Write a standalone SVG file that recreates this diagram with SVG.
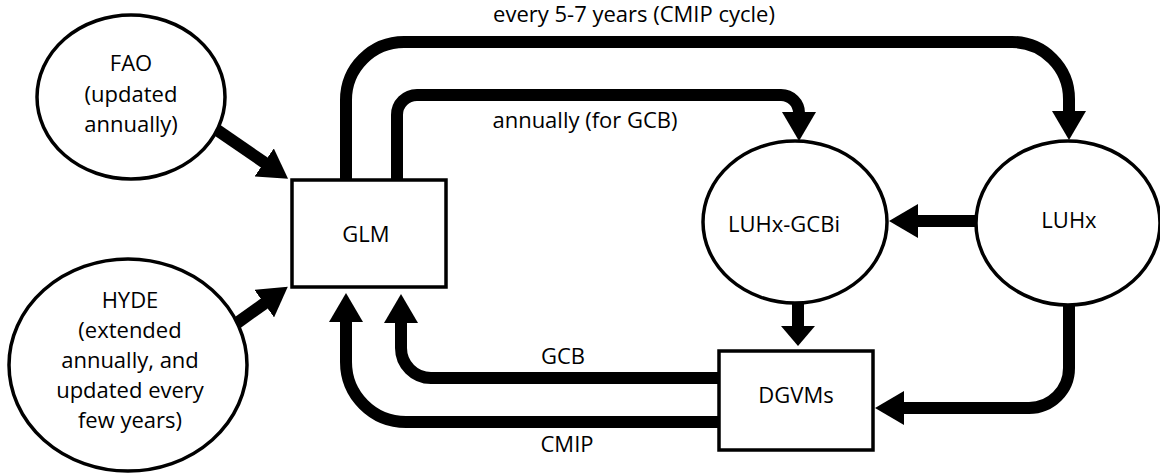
<svg xmlns="http://www.w3.org/2000/svg" width="1160" height="473" viewBox="0 0 1160 473">
  <defs>
    <marker id="ah" markerUnits="userSpaceOnUse" markerWidth="29" markerHeight="34" viewBox="0 0 29 34" refX="1" refY="17" orient="auto">
      <path d="M0,0 L29,17 L0,34 Z" fill="#000"/>
    </marker>
    <marker id="ahs" markerUnits="userSpaceOnUse" markerWidth="20" markerHeight="34" viewBox="0 0 20 34" refX="1" refY="17" orient="auto">
      <path d="M0,0 L20,17 L0,34 Z" fill="#000"/>
    </marker>
    <style>
      .node { fill: #fff; stroke: #000; stroke-width: 3.5; }
      .t { font-family: "Open Sans", "Liberation Sans", sans-serif; font-size: 22px; fill: #000; text-anchor: middle; }
      .lbl { font-family: "Open Sans", "Liberation Sans", sans-serif; font-size: 22px; fill: #000; text-anchor: middle; }
      .c { fill: none; stroke: #000; stroke-width: 12; marker-end: url(#ah); }
    </style>
  </defs>
  <rect width="1160" height="473" fill="#fff"/>

  <g id="connectors">
    <path class="c" d="M217,130 L265,163"/>
    <path class="c" d="M237,323 L265,303"/>
    <path class="c" d="M346,181 V100 A58,58 0 0 1 404,42 H1012 A57,57 0 0 1 1069,99 V112"/>
    <path class="c" d="M397,181 V115 A20,20 0 0 1 417,95 H781 A18,18 0 0 1 799,113"/>
    <path class="c" d="M976,221 H917"/>
    <path class="c" d="M798,303 V327" style="marker-end:url(#ahs)"/>
    <path class="c" d="M1069,305 V368 A40,40 0 0 1 1029,408 H903"/>
    <path class="c" d="M718,378 H431 A30,30 0 0 1 401,348 V322"/>
    <path class="c" d="M718,422 H406 A60,60 0 0 1 346,362 V321"/>
  </g>

  <g id="fao">
    <ellipse class="node" cx="131" cy="97" rx="94" ry="82"/>
    <text class="t" x="131" y="71">FAO</text>
    <text class="t" x="131" y="102">(updated</text>
    <text class="t" x="131" y="132">annually)</text>
  </g>
  <g id="hyde">
    <ellipse class="node" cx="128" cy="365" rx="119" ry="106"/>
    <text class="t" x="130" y="308">HYDE</text>
    <text class="t" x="130" y="338">(extended</text>
    <text class="t" x="130" y="368">annually, and</text>
    <text class="t" x="130" y="398">updated every</text>
    <text class="t" x="130" y="428">few years)</text>
  </g>
  <g id="glm">
    <rect class="node" x="292" y="180" width="154" height="107"/>
    <text class="t" x="366" y="242">GLM</text>
  </g>
  <g id="luhx-gcbi">
    <ellipse class="node" cx="795" cy="222" rx="92" ry="81"/>
    <text class="t" x="784" y="232">LUHx-GCBi</text>
  </g>
  <g id="luhx">
    <ellipse class="node" cx="1068" cy="223" rx="92" ry="82"/>
    <text class="t" x="1069" y="228">LUHx</text>
  </g>
  <g id="dgvms">
    <rect class="node" x="719" y="351" width="154" height="99"/>
    <text class="t" x="796" y="403">DGVMs</text>
  </g>

  <g id="labels">
    <text class="lbl" x="634" y="22">every 5-7 years (CMIP cycle)</text>
    <text class="lbl" x="585" y="128">annually (for GCB)</text>
    <text class="lbl" x="563" y="364">GCB</text>
    <text class="lbl" x="567" y="452">CMIP</text>
  </g>
</svg>
